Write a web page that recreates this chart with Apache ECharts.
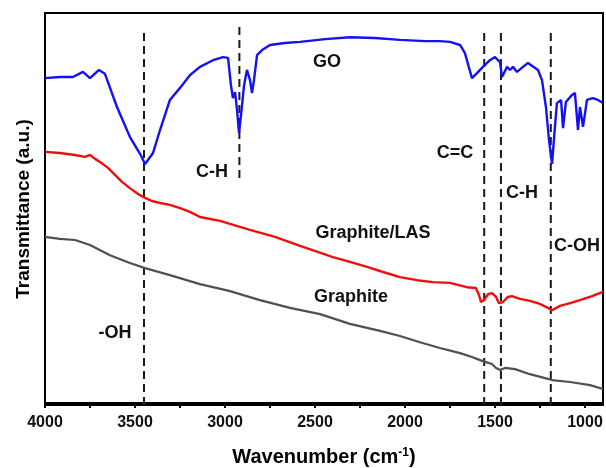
<!DOCTYPE html>
<html>
<head>
<meta charset="utf-8">
<script src="https://cdn.jsdelivr.net/npm/echarts@6/dist/echarts.min.js"></script>
<style>
html, body { margin: 0; padding: 0; background: #fff; }
#main { width: 606px; height: 468px; }
</style>
</head>
<body>
<div id="main"></div>
<script>
// GO
var goWave = [4000,3917,3845,3789,3750,3700,3667,3600,3528,3472,3444,3400,3361,3306,3250,3194,3139,
  3067,3011,2983,2967,2956,2944,2933,2922,2911,2894,2878,2861,2850,2839,2822,2794,2750,2667,2583,2444,
  2306,2167,2028,1889,1806,1750,1694,1667,1644,1628,1600,1567,1528,1500,1472,1461,1433,1417,1400,1378,
  1317,1261,1239,1217,1200,1183,1167,1156,1133,1122,1106,1072,1056,1039,1028,1011,989,956,928,900];
var goTrans = [83.3,83.6,83.6,84.9,83.3,85.4,84.4,75.9,68.2,63.9,61.3,64.1,70,77.7,80.8,84.1,86.2,
  87.9,88.7,88.5,81.5,78.2,79.7,75.1,69.2,73.8,81.5,85.4,82.8,79.5,82.8,89.2,90.5,91.8,92.3,92.6,93.3,
  93.8,93.6,93.1,92.8,92.8,92.6,91.8,89.7,85.9,83.3,84.6,86.2,87.9,88.7,87.4,83.6,86.2,85.4,86.2,84.9,
  87.2,85.4,82.8,75.9,67.4,61.3,70.8,76.9,77.7,70.5,77.2,79,79.5,70,75.9,70.8,77.7,78.2,77.7,76.9];

// Graphite/LAS
var lasWave = [4000,3917,3833,3778,3750,3722,3694,3650,3611,3572,3528,3483,3444,3406,3361,3306,3250,3194,3139,
  3028,2861,2722,2583,2400,2306,2211,2122,2028,1933,1844,1750,1656,1606,1589,1578,1561,1539,1517,1494,
  1478,1456,1428,1406,1361,1306,1250,1206,1183,1139,1083,1028,961,900];
var lasTrans = [64.4,64.1,63.6,63.1,63.6,62.6,61.8,60.3,58.5,56.7,55.1,53.6,52.6,51.8,51.3,50.8,50,49,47.7,
  46.7,44.4,42.6,40.3,37.4,36.2,34.9,33.6,32.3,31.5,31,30.8,29.7,29.5,27.7,25.9,26.4,27.9,28.2,27.2,
  25.6,25.9,27.2,27.4,26.7,26.2,25.4,24.4,23.8,24.9,25.6,26.4,27.4,28.5];

// Graphite
var grWave = [4000,3917,3833,3750,3639,3528,3444,3306,3139,2972,2806,2639,2472,2306,2139,2028,1917,1806,1694,1628,
  1583,1550,1517,1494,1472,1444,1389,1306,1222,1183,1083,972,900];
var grTrans = [42.6,42.1,41.8,40.5,37.9,35.9,34.6,32.8,30.5,28.7,26.4,24.4,22.8,20.3,18.5,17.2,15.6,14.1,12.8,11.8,
  11,10.5,10,9,8.5,9,8.7,7.4,6.4,5.9,5.4,4.6,3.6];

// dashed marker lines
var dashWave = [3450, 2920, 1560, 1467, 1190];
var dashTop = [94.9, 96.4, 94.9, 94.9, 94.9];
var dashBottom = [-0.5, 56.7, -0.5, -0.5, -0.5];

// text annotations
var noteText = ['GO', 'C-H', 'Graphite/LAS', 'Graphite', '-OH', 'C=C', 'C-H', 'C-OH'];
var noteWave = [2433, 3072, 2178, 2300, 3611, 1722, 1350, 1044];
var noteTrans = [87.4, 59.2, 43.6, 27.2, 17.9, 64.1, 53.8, 40.3];

var majorTicks = [4000, 3500, 3000, 2500, 2000, 1500, 1000];
var minorTicks = [3750, 3250, 2750, 2250, 1750, 1250];

var FONT = '"Liberation Sans", Arial, sans-serif';

function pairs(xs, ys) {
  var out = [];
  for (var i = 0; i < xs.length; i++) out.push([xs[i], ys[i]]);
  return out;
}

var series = [];
for (var i = 0; i < dashWave.length; i++) {
  series.push({
    type: 'line',
    silent: true,
    symbol: 'none',
    data: [[dashWave[i], dashTop[i]], [dashWave[i], dashBottom[i]]],
    lineStyle: { color: '#1a1a1a', width: 2, type: [8, 5] },
    z: 1
  });
}
series.push({ name: 'Graphite', type: 'line', symbol: 'none', data: pairs(grWave, grTrans),
  lineStyle: { color: '#505050', width: 2.2 }, z: 2 });
series.push({ name: 'Graphite/LAS', type: 'line', symbol: 'none', data: pairs(lasWave, lasTrans),
  lineStyle: { color: '#f20d0d', width: 2.4 }, z: 2 });
series.push({ name: 'GO', type: 'line', symbol: 'none', data: pairs(goWave, goTrans),
  lineStyle: { color: '#1212f2', width: 2.4 }, z: 2 });

var notes = [];
for (var j = 0; j < noteText.length; j++) {
  notes.push({ name: noteText[j], value: [noteWave[j], noteTrans[j]] });
}
series.push({
  type: 'scatter',
  silent: true,
  symbolSize: 0,
  itemStyle: { opacity: 1 },
  data: notes,
  label: {
    show: true, position: 'inside', formatter: '{b}', opacity: 1,
    color: '#111', fontSize: 18, fontWeight: 'bold', fontFamily: FONT
  },
  z: 5
});

var myChart = echarts.init(document.getElementById('main'));
var option = {
  animation: false,
  grid: {
    left: 45, right: 3, top: 13, bottom: 63,
    outerBoundsMode: 'none',
    show: true, borderColor: '#000', borderWidth: 2, backgroundColor: 'transparent'
  },
  xAxis: [{
    type: 'value',
    min: 900, max: 4000,
    inverse: true,
    name: 'Wavenumber (cm{sup|-1})',
    nameLocation: 'middle',
    nameGap: 42,
    nameTextStyle: {
      color: '#000', fontSize: 20, fontWeight: 'bold', fontFamily: FONT,
      rich: { sup: { fontSize: 12, fontWeight: 'bold', fontFamily: FONT, verticalAlign: 'top', color: '#000' } }
    },
    axisLine: { show: true, lineStyle: { color: '#000', width: 2 } },
    axisTick: { show: true, customValues: majorTicks, length: 5, lineStyle: { color: '#000', width: 2 } },
    axisLabel: {
      customValues: majorTicks, margin: 10,
      formatter: function (v) { return String(v); },
      color: '#111', fontSize: 16, fontWeight: 'bold', fontFamily: FONT
    },
    splitLine: { show: false }
  }, {
    type: 'value',
    min: 900, max: 4000,
    inverse: true,
    position: 'bottom',
    axisLine: { show: false },
    axisTick: { show: true, customValues: minorTicks, length: 3, lineStyle: { color: '#000', width: 2 } },
    axisLabel: { show: false },
    splitLine: { show: false }
  }],
  yAxis: {
    type: 'value',
    min: -0.5, max: 100,
    name: 'Transmittance (a.u.)',
    nameLocation: 'middle',
    nameRotate: 90,
    nameGap: 12,
    nameTextStyle: { color: '#000', fontSize: 19, fontWeight: 'bold', fontFamily: FONT },
    axisLine: { show: true, lineStyle: { color: '#000', width: 2 } },
    axisTick: { show: false },
    axisLabel: { show: false },
    splitLine: { show: false }
  },
  series: series
};
myChart.setOption(option);
</script>
</body>
</html>
